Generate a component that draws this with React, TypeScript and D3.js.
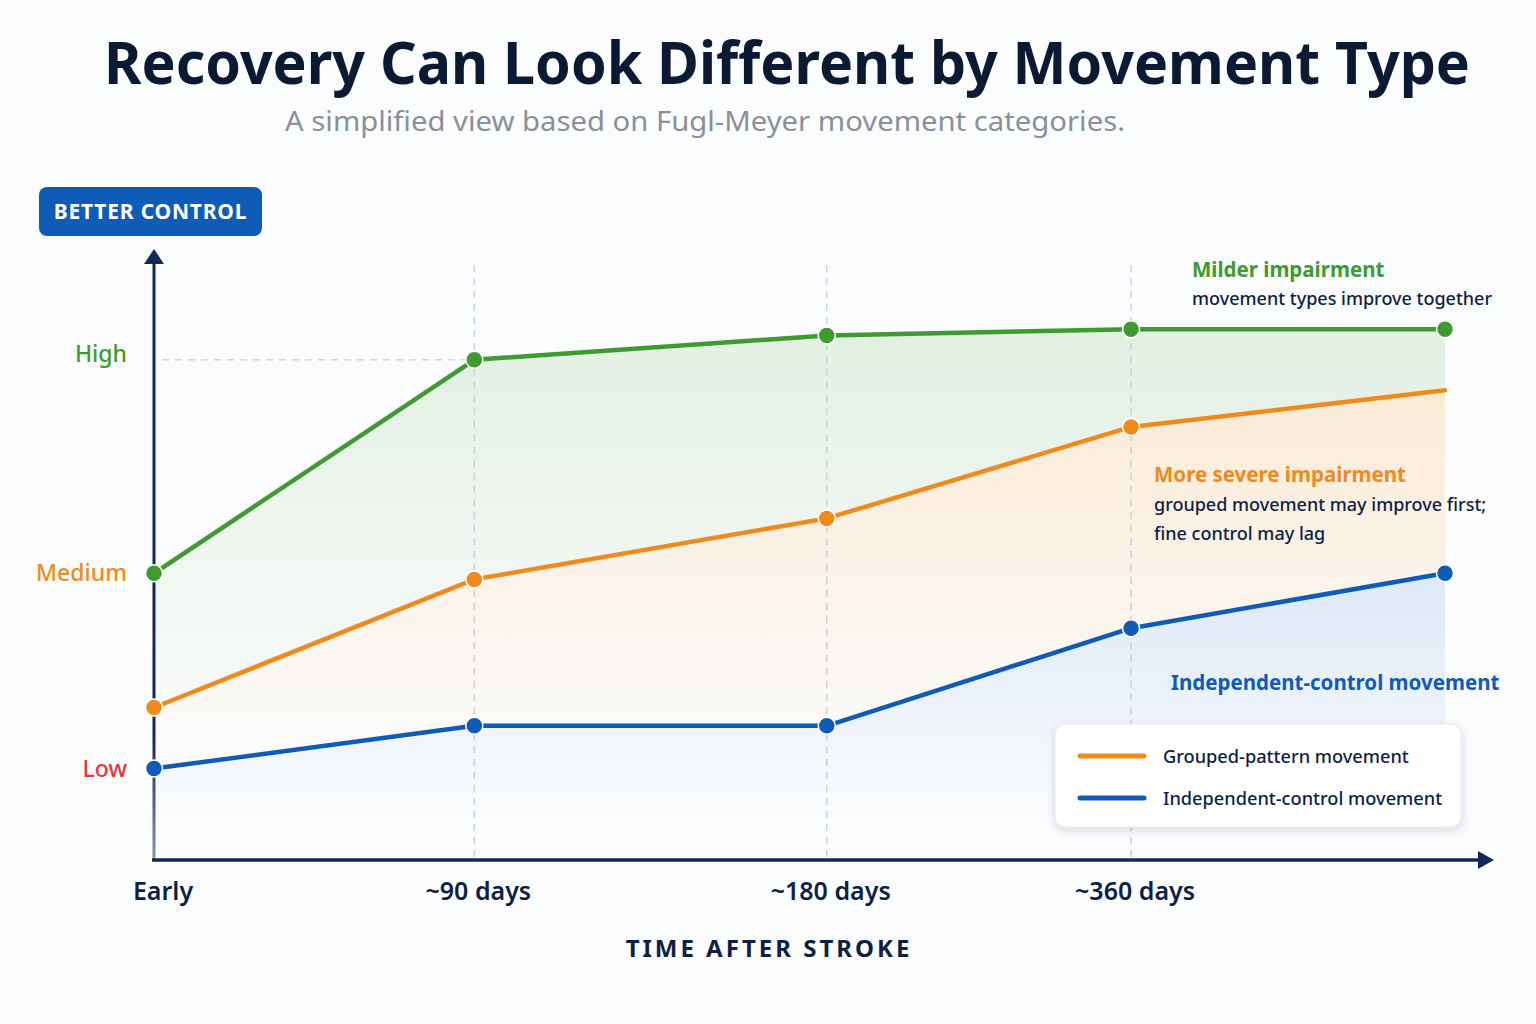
import React from "react";
import * as d3 from "d3";

// Time points along the x axis and their relative spacing
const categories = ["Early", "~90 days", "~180 days", "~360 days", ""];
const timeSlots = [0, 1, 2.1, 3.05, 4.03];

// Control level (0–100) for each movement profile
const milderImpairment = [47, 82, 86, 87, 87];
const groupedPattern = [25, 46, 56, 71, 77];
const independentControl = [15, 22, 22, 38, 47];

// Qualitative y ticks
const levelLabels = ["Low", "Medium", "High"];
const levelValues = [15, 47, 82];
const levelColors = ["#e8343c", "#f08a1c", "#3d9b2f"];

const W = 1536;
const H = 1024;
const FONT = "'Noto Sans', 'Open Sans', sans-serif";
const NAVY = "#0d1f44";
const GREEN = "#3d9b2f";
const ORANGE = "#f08a1c";
const BLUE = "#0e5cb8";

export default function App() {
  const x = d3.scaleLinear().domain([0, 4.03]).range([154, 1445]);
  const y = d3.scaleLinear().domain([0, 100]).range([860, 250]);
  const base = y(0);

  const toPts = (vals: number[]) => vals.map((v, i) => [timeSlots[i], v] as [number, number]);
  const line = d3
    .line<[number, number]>()
    .x((d) => x(d[0]))
    .y((d) => y(d[1]));
  const area = d3
    .area<[number, number]>()
    .x((d) => x(d[0]))
    .y0(base)
    .y1((d) => y(d[1]));

  const series = [
    { key: "g", vals: milderImpairment, color: GREEN, dots: [0, 1, 2, 3, 4], grad: "gradG" },
    { key: "o", vals: groupedPattern, color: ORANGE, dots: [0, 1, 2, 3], grad: "gradO" },
    { key: "b", vals: independentControl, color: BLUE, dots: [0, 1, 2, 3, 4], grad: "gradB" },
  ];

  const gridX = [1, 2, 3].map((i) => x(timeSlots[i]));

  return (
    <svg
      width={W}
      height={H}
      viewBox={`0 0 ${W} ${H}`}
      style={{ position: "absolute", left: 0, top: 0, display: "block" }}
      fontFamily={FONT}
    >
      <defs>
        <linearGradient id="gradG" gradientUnits="userSpaceOnUse" x1="0" y1={y(88)} x2="0" y2={y(18)}>
          <stop offset="0" stopColor={GREEN} stopOpacity={0.13} />
          <stop offset="1" stopColor={GREEN} stopOpacity={0} />
        </linearGradient>
        <linearGradient id="gradO" gradientUnits="userSpaceOnUse" x1="0" y1={y(78)} x2="0" y2={y(14)}>
          <stop offset="0" stopColor="#f7b866" stopOpacity={0.26} />
          <stop offset="1" stopColor="#f7b866" stopOpacity={0} />
        </linearGradient>
        <linearGradient id="gradB" gradientUnits="userSpaceOnUse" x1="0" y1={y(48)} x2="0" y2={y(6)}>
          <stop offset="0" stopColor="#6f9fe0" stopOpacity={0.22} />
          <stop offset="1" stopColor="#6f9fe0" stopOpacity={0} />
        </linearGradient>
        <linearGradient id="yAxisGrad" gradientUnits="userSpaceOnUse" x1="0" y1="250" x2="0" y2="860">
          <stop offset="0.8" stopColor="#13285a" />
          <stop offset="1" stopColor="#8a98ad" />
        </linearGradient>
        <filter id="legendShadow" x="-10%" y="-20%" width="120%" height="150%">
          <feDropShadow dx="0" dy="3" stdDeviation="4" floodColor="#1a2a4a" floodOpacity="0.16" />
        </filter>
      </defs>

      <rect width={W} height={H} fill="#fbfcfd" />

      {/* Title block */}
      <text x={787} y={84} textAnchor="middle" fontSize={60} fontWeight={700} fill="#0b1a33" textLength={1366} lengthAdjust="spacingAndGlyphs">
        Recovery Can Look Different by Movement Type
      </text>
      <text x={285} y={131} fontSize={27} fill="#8a9099" textLength={840} lengthAdjust="spacingAndGlyphs">
        A simplified view based on Fugl-Meyer movement categories.
      </text>

      {/* Layered area fills */}
      {series.map((s) => (
        <g key={`a-${s.key}`}>
          <path d={area(toPts(s.vals)) ?? ""} fill="#fbfcfd" />
          <path d={area(toPts(s.vals)) ?? ""} fill={`url(#${s.grad})`} />
        </g>
      ))}

      {/* Dashed guides */}
      {gridX.map((gx, i) => (
        <line key={`gx-${i}`} x1={gx} x2={gx} y1={265} y2={base} stroke="#c9d1dd" strokeWidth={1.5} strokeDasharray="7 6" />
      ))}
      <line x1={162} x2={x(timeSlots[1])} y1={y(levelValues[2])} y2={y(levelValues[2])} stroke="#cfd6e1" strokeWidth={1.5} strokeDasharray="7 6" />

      {/* Axes */}
      <line x1={154} x2={154} y1={base} y2={258} stroke="url(#yAxisGrad)" strokeWidth={3} />
      <path d="M144,264 L154,249 L164,264 Z" fill="#13285a" />
      <line x1={152} x2={1478} y1={base} y2={base} stroke="#13285a" strokeWidth={3.5} />
      <path d="M1478,851 L1494,860 L1478,869 Z" fill="#13285a" />

      {/* Lines and markers */}
      {series.map((s) => (
        <path key={`l-${s.key}`} d={line(toPts(s.vals)) ?? ""} fill="none" stroke={s.color} strokeWidth={4.5} strokeLinejoin="round" strokeLinecap="round" />
      ))}
      {series.map((s) =>
        s.dots.map((i) => (
          <circle key={`d-${s.key}-${i}`} cx={x(timeSlots[i])} cy={y(s.vals[i])} r={8.5} fill={s.color} stroke="#ffffff" strokeWidth={1.5} />
        ))
      )}

      {/* Y level labels */}
      {levelLabels.map((lab, i) => (
        <text key={lab} x={127} y={y(levelValues[i]) - (i === 2 ? 6 : 0)} dy="0.35em" textAnchor="end" fontSize={23} fontWeight={500} fill={levelColors[i]}>
          {lab}
        </text>
      ))}

      {/* Badge */}
      <rect x={39} y={187} width={223} height={49} rx={8} fill="#0f5cb8" />
      <text x={150.5} y={219} textAnchor="middle" fontSize={21} fontWeight={700} fill="#ffffff" letterSpacing={0.8}>
        BETTER CONTROL
      </text>

      {/* X category labels */}
      {categories.map((c, i) =>
        c ? (
          <text key={c} x={x(timeSlots[i]) + (i === 0 ? 9 : 4)} y={900} textAnchor="middle" fontSize={25} fontWeight={600} fill={NAVY}>
            {c}
          </text>
        ) : null
      )}
      <text x={769} y={957} textAnchor="middle" fontSize={24} fontWeight={700} fill={NAVY} letterSpacing={3}>
        TIME AFTER STROKE
      </text>

      {/* Annotations */}
      <text x={1192} y={277} fontSize={20.5} fontWeight={700} fill={GREEN}>Milder impairment</text>
      <text x={1192} y={305} fontSize={18} fontWeight={500} fill={NAVY}>movement types improve together</text>

      <text x={1154} y={482} fontSize={20.5} fontWeight={700} fill={ORANGE}>More severe impairment</text>
      <text x={1154} y={511} fontSize={18} fontWeight={500} fill={NAVY}>grouped movement may improve first;</text>
      <text x={1154} y={540} fontSize={18} fontWeight={500} fill={NAVY}>fine control may lag</text>

      <text x={1171} y={690} fontSize={20.5} fontWeight={700} fill={BLUE}>Independent-control movement</text>

      {/* Legend */}
      <rect x={1055} y={724} width={406} height={103} rx={10} fill="#ffffff" stroke="#e3e8ef" strokeWidth={1} filter="url(#legendShadow)" />
      <line x1={1080} x2={1144} y1={756} y2={756} stroke={ORANGE} strokeWidth={5} strokeLinecap="round" />
      <text x={1163} y={763} fontSize={18.2} fontWeight={500} fill={NAVY}>Grouped-pattern movement</text>
      <line x1={1080} x2={1144} y1={798} y2={798} stroke={BLUE} strokeWidth={5} strokeLinecap="round" />
      <text x={1163} y={805} fontSize={18.2} fontWeight={500} fill={NAVY}>Independent-control movement</text>
    </svg>
  );
}
